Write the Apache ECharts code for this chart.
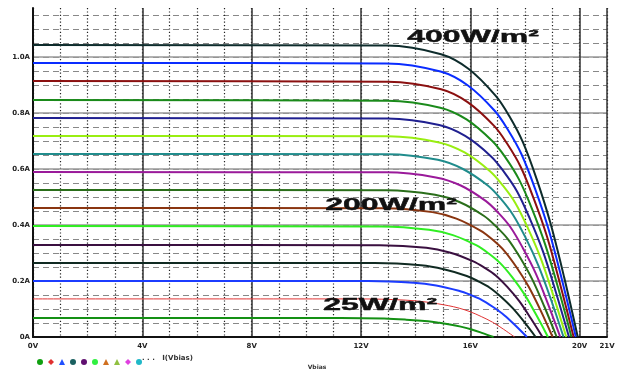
<!DOCTYPE html>
<html>
<head>
<meta charset="utf-8">
<script src="https://cdn.jsdelivr.net/npm/echarts@6/dist/echarts.min.js"></script>
<style>
  html, body { margin: 0; padding: 0; background: #fff; }
  #chart { width: 618px; height: 371px; }
</style>
</head>
<body>
<div id="chart"></div>
<script>
// I-V characteristics of the PV module, swept bias voltage, one trace per irradiance level (W/m²)
const irradiance = [25, 50, 75, 100, 125, 150, 175, 200, 225, 250, 275, 300, 325, 350, 375, 400];

// [voltage (V), current (A)] samples for each trace
const iv25  = [[0,0.068],[11.25,0.068],[12.85,0.066],[13.65,0.062],[14.45,0.056],[14.85,0.051],[15.25,0.045],[15.65,0.037],[16.05,0.027],[16.45,0.014],[16.85,0]];
const iv50  = [[0,0.136],[11.95,0.136],[13.57,0.132],[14.38,0.125],[15.19,0.112],[15.59,0.103],[16.00,0.090],[16.40,0.073],[16.81,0.053],[17.21,0.028],[17.62,0]];
const iv75  = [[0,0.200],[12.26,0.200],[13.92,0.194],[14.75,0.184],[15.58,0.165],[15.99,0.151],[16.41,0.133],[16.82,0.108],[17.24,0.078],[17.65,0.041],[18.07,0]];
const iv100 = [[0,0.264],[12.51,0.264],[14.19,0.256],[15.03,0.242],[15.87,0.218],[16.29,0.199],[16.71,0.176],[17.13,0.143],[17.55,0.103],[17.97,0.054],[18.39,0]];
const iv125 = [[0,0.329],[12.69,0.328],[14.39,0.319],[15.24,0.302],[16.09,0.271],[16.51,0.248],[16.94,0.219],[17.36,0.178],[17.79,0.128],[18.21,0.067],[18.64,0]];
const iv150 = [[0,0.396],[12.75,0.395],[14.49,0.383],[15.36,0.364],[16.23,0.327],[16.66,0.299],[17.10,0.263],[17.53,0.214],[17.97,0.154],[18.40,0.081],[18.84,0]];
const iv175 = [[0,0.461],[12.85,0.460],[14.61,0.446],[15.49,0.423],[16.37,0.380],[16.81,0.348],[17.25,0.307],[17.69,0.249],[18.13,0.180],[18.57,0.095],[19.01,0]];
const iv200 = [[0,0.525],[12.93,0.524],[14.71,0.508],[15.60,0.482],[16.49,0.433],[16.93,0.396],[17.38,0.349],[17.82,0.284],[18.27,0.205],[18.71,0.108],[19.16,0]];
const iv225 = [[0,0.589],[12.92,0.588],[14.74,0.570],[15.65,0.541],[16.56,0.486],[17.01,0.445],[17.47,0.392],[17.92,0.318],[18.38,0.230],[18.83,0.121],[19.29,0]];
const iv250 = [[0,0.654],[12.97,0.653],[14.81,0.633],[15.73,0.600],[16.65,0.540],[17.11,0.494],[17.57,0.435],[18.03,0.353],[18.49,0.255],[18.95,0.134],[19.41,0]];
const iv275 = [[0,0.718],[13.00,0.717],[14.86,0.695],[15.79,0.659],[16.72,0.592],[17.18,0.542],[17.65,0.478],[18.11,0.388],[18.58,0.280],[19.04,0.147],[19.51,0]];
const iv300 = [[0,0.782],[12.96,0.780],[14.86,0.757],[15.81,0.718],[16.76,0.645],[17.23,0.590],[17.71,0.520],[18.18,0.422],[18.66,0.305],[19.13,0.160],[19.61,0]];
const iv325 = [[0,0.846],[12.98,0.844],[14.90,0.819],[15.86,0.777],[16.82,0.698],[17.30,0.639],[17.78,0.563],[18.26,0.457],[18.74,0.330],[19.22,0.173],[19.70,0]];
const iv350 = [[0,0.914],[12.99,0.912],[14.93,0.885],[15.90,0.839],[16.87,0.754],[17.35,0.690],[17.84,0.608],[18.32,0.494],[18.81,0.357],[19.29,0.187],[19.78,0]];
const iv375 = [[0,0.979],[12.93,0.977],[14.91,0.948],[15.90,0.899],[16.89,0.808],[17.38,0.739],[17.88,0.651],[18.37,0.529],[18.87,0.382],[19.36,0.201],[19.86,0]];
const iv400 = [[0,1.043],[12.93,1.041],[14.93,1.010],[15.93,0.958],[16.93,0.861],[17.43,0.788],[17.93,0.694],[18.43,0.563],[18.93,0.407],[19.43,0.214],[19.93,0]];

const traces = [iv25, iv50, iv75, iv100, iv125, iv150, iv175, iv200,
                iv225, iv250, iv275, iv300, iv325, iv350, iv375, iv400];

// axis ticks
const voltTicksMajor = 4;   // V between labelled grid lines
const voltTicksMinor = 1;
const ampTicksMajor = 0.2;  // A between labelled grid lines
const ampTicksMinor = 0.05;

// annotated irradiance levels and where their captions sit (V, A)
const captionText = ['400W/m²', '200W/m²', '25W/m²'];
const captionAt = [[16.1, 1.068], [13.1, 0.468], [12.7, 0.112]];

// trace colours, lowest irradiance first
const traceColors = ['#149014', '#e03434', '#1c3cff', '#102a22', '#3a1040', '#30ee22', '#8a3510', '#2a6e1a',
                     '#9a1a9a', '#208c8c', '#99ee11', '#202090', '#1a8a1a', '#8b1010', '#0a2cff', '#0d2b2b'];

const legendIcons = ['circle', 'diamond', 'triangle', 'circle', 'circle', 'circle', 'triangle', 'triangle', 'diamond', 'circle'];
const legendColors = ['#10a010', '#e03030', '#2050ff', '#1a6060', '#601070', '#30f040', '#d07020', '#90c040', '#e040e0', '#20b8c8'];

const chart = echarts.init(document.getElementById('chart'), null, { renderer: 'canvas' });

const X_MAX = 21, Y_MAX = 1.175;

const series = traces.map((pts, i) => ({
  name: 'I(Vbias) ' + irradiance[i],
  type: 'line',
  xAxisIndex: 0,
  yAxisIndex: 0,
  data: pts,
  showSymbol: false,
  smooth: 0.35,
  z: 5,
  lineStyle: { width: i === 1 ? 1 : 2, color: traceColors[i] },
  itemStyle: { color: traceColors[i] },
  emphasis: { disabled: true },
  animation: false
}));

const axisFont = { fontSize: 7, color: '#222', fontFamily: 'DejaVu Sans', fontWeight: 'bold' };

chart.setOption({
  animation: false,
  grid: { left: 33, right: 11, top: 8, bottom: 34, containLabel: false },
  xAxis: [
    {
      type: 'value', min: 0, max: X_MAX, interval: voltTicksMajor, z: 3,
      axisLine: { show: true, onZero: false, lineStyle: { color: '#111', width: 2 } },
      axisTick: { show: false },
      axisLabel: { ...axisFont, margin: 6, formatter: v => v + 'V' },
      splitLine: { show: true, lineStyle: { color: '#333', width: 1.5 } }
    },
    {
      type: 'value', min: 0, max: X_MAX, interval: voltTicksMinor, position: 'bottom', z: 1,
      axisLine: { show: false }, axisTick: { show: false }, axisLabel: { show: false },
      splitLine: { show: true, lineStyle: { color: '#222', width: 1.2, type: [1.2, 2.2] } }
    }
  ],
  yAxis: [
    {
      type: 'value', min: 0, max: Y_MAX, interval: ampTicksMajor, z: 3,
      axisLine: { show: true, onZero: false, lineStyle: { color: '#111', width: 2 } },
      axisTick: { show: false },
      axisLabel: { ...axisFont, margin: 3, showMaxLabel: false,
        formatter: v => v === 0 ? '0A' : v.toFixed(1) + 'A' },
      splitLine: { show: true, showMaxLine: false, lineStyle: { color: '#999', width: 1.5 } }
    },
    {
      type: 'value', min: 0, max: Y_MAX, interval: ampTicksMinor, z: 1,
      axisLine: { show: false }, axisTick: { show: false }, axisLabel: { show: false },
      splitLine: { show: true, showMaxLine: false, lineStyle: { color: '#888', width: 1, type: [6, 4] } }
    }
  ],
  legend: {
    left: 32, top: 354, itemWidth: 6, itemHeight: 6, itemGap: 5,
    icon: 'circle', selectedMode: false,
    formatter: () => '',
    textStyle: { fontSize: 1 },
    data: series.slice(0, 10).map((s, i) => ({ name: s.name, icon: legendIcons[i], itemStyle: { color: legendColors[i] } }))
  },
  series: series
});

// captions placed at data coordinates, plus trace-list text and axis title
const captionGraphics = captionText.map((t, i) => {
  const p = chart.convertToPixel({ gridIndex: 0 }, captionAt[i]);
  return {
    type: 'text', x: p[0], y: p[1], scaleX: 2.0, z: 20,
    style: { text: t, fill: '#111', stroke: '#111', lineWidth: 0.4,
      font: 'bold 16px "Liberation Sans", Arial, sans-serif', align: 'center', verticalAlign: 'middle' }
  };
});

chart.setOption({
  graphic: captionGraphics.concat([
    { type: 'text', x: 142, y: 358, z: 20,
      style: { text: '. . .   I(Vbias)', fill: '#333', font: 'bold 7px "DejaVu Sans", sans-serif', verticalAlign: 'middle' } },
    { type: 'text', x: 317, y: 367, z: 20,
      style: { text: 'Vbias', fill: '#333', font: 'bold 6px "DejaVu Sans", sans-serif', align: 'center', verticalAlign: 'middle' } }
  ])
});
</script>
</body>
</html>
